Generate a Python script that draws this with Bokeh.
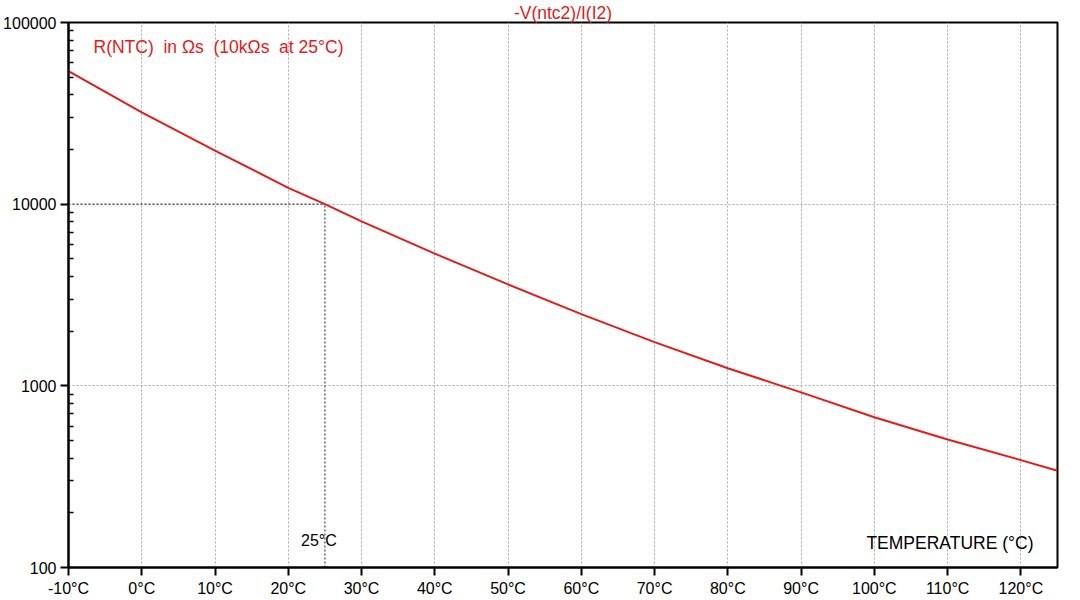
from bokeh.plotting import figure
from bokeh.models import FixedTicker, Label, PrintfTickFormatter, ColumnDataSource
from bokeh.embed import file_html
from bokeh.resources import INLINE

# ---- data ----
temps_c = [-10, 0, 10, 20, 25, 30, 40, 50, 60, 70, 80, 90, 100, 110, 120, 125]
r_ntc = [54000, 32000, 19700, 12300, 10000, 8040, 5340, 3620, 2480, 1740, 1250, 920, 672, 507, 390, 341]

x_ticks = [-10, 0, 10, 20, 30, 40, 50, 60, 70, 80, 90, 100, 110, 120]
y_ticks = [100, 1000, 10000, 100000]
y_minor = [m * d for d in (100, 1000, 10000) for m in range(2, 10)]
y_tick_labels = {100: "100", 1000: "1000", 10000: "10000", 100000: "100000"}

ref_temp = 25
ref_res = 10000

title_text = "-V(ntc2)/I(I2)"
curve_label = "R(NTC)\u00a0\u00a0in \u03a9s\u00a0\u00a0(10k\u03a9s\u00a0\u00a0at 25°C)"
ref_label = "25°C"
x_title = "TEMPERATURE (°C)"

RED = "#e31b1b"
FONT = "Liberation Sans"

FW, FH = 989, 545

p = figure(frame_width=FW, frame_height=FH, x_range=(-10, 125), y_range=(100, 100000),
           y_axis_type="log", output_backend="svg", toolbar_location=None,
           min_border_left=67, min_border_right=14, min_border_top=0, min_border_bottom=28,
           background_fill_color="white", border_fill_color="white")

p.title.text = title_text
p.title.align = "center"
p.title.text_color = RED
p.title.text_font = FONT
p.title.text_font_size = "17.5px"
p.title.text_font_style = "normal"
p.title.standoff = 0
p.title.offset = 0

p.outline_line_color = "black"
p.outline_line_width = 2
p.outline_line_alpha = 1

# axes
for ax in (p.xaxis[0], p.yaxis[0]):
    ax.axis_line_color = "black"
    ax.axis_line_width = 2
    ax.major_tick_line_color = "black"
    ax.major_tick_line_width = 2
    ax.major_tick_out = 8
    ax.major_tick_in = 0
    ax.major_label_text_font = FONT
    ax.major_label_text_font_size = "16px"
    ax.major_label_text_color = "black"
    ax.major_label_standoff = 4

p.xaxis[0].ticker = FixedTicker(ticks=x_ticks, minor_ticks=[])
p.xaxis[0].formatter = PrintfTickFormatter(format="%d°C")
p.xaxis[0].minor_tick_line_color = None

p.yaxis[0].ticker = FixedTicker(ticks=y_ticks, minor_ticks=y_minor)
p.yaxis[0].major_label_overrides = y_tick_labels
p.yaxis[0].minor_tick_in = 5
p.yaxis[0].minor_tick_out = 0
p.yaxis[0].minor_tick_line_color = "black"
p.yaxis[0].minor_tick_line_width = 1.5

# grids
for g in (p.xgrid[0], p.ygrid[0]):
    g.grid_line_color = "#a8a8a8"
    g.grid_line_width = 1
    g.grid_line_dash = "2 2"
p.ygrid[0].minor_grid_line_color = None

# reference lines at 25°C / 10 kOhm
ref_src = ColumnDataSource(dict(x0=[min(x_ticks), ref_temp], y0=[ref_res, min(y_ticks)],
                                x1=[ref_temp, ref_temp], y1=[ref_res, ref_res]))
p.segment("x0", "y0", "x1", "y1", source=ref_src, line_color="#444444",
          line_width=1.2, line_dash="2 2")

# curve
p.line(temps_c, r_ntc, line_color=RED, line_width=2)

# texts
p.add_layout(Label(x=25, y=FH - 24, x_units="screen", y_units="screen", text=curve_label,
                   text_font=FONT, text_font_size="17.5px", text_color=RED,
                   text_align="left", text_baseline="middle"))
p.add_layout(Label(x=ref_temp, y=27, x_units="data", y_units="screen", text=ref_label,
                   text_font=FONT, text_font_size="16px", text_color="black",
                   text_align="center", text_baseline="middle", x_offset=-6))
p.add_layout(Label(x=FW - 24, y=25, x_units="screen", y_units="screen", text=x_title,
                   text_font=FONT, text_font_size="17.5px", text_color="black",
                   text_align="right", text_baseline="middle"))

open("out.html", "w").write(file_html(p, INLINE))
